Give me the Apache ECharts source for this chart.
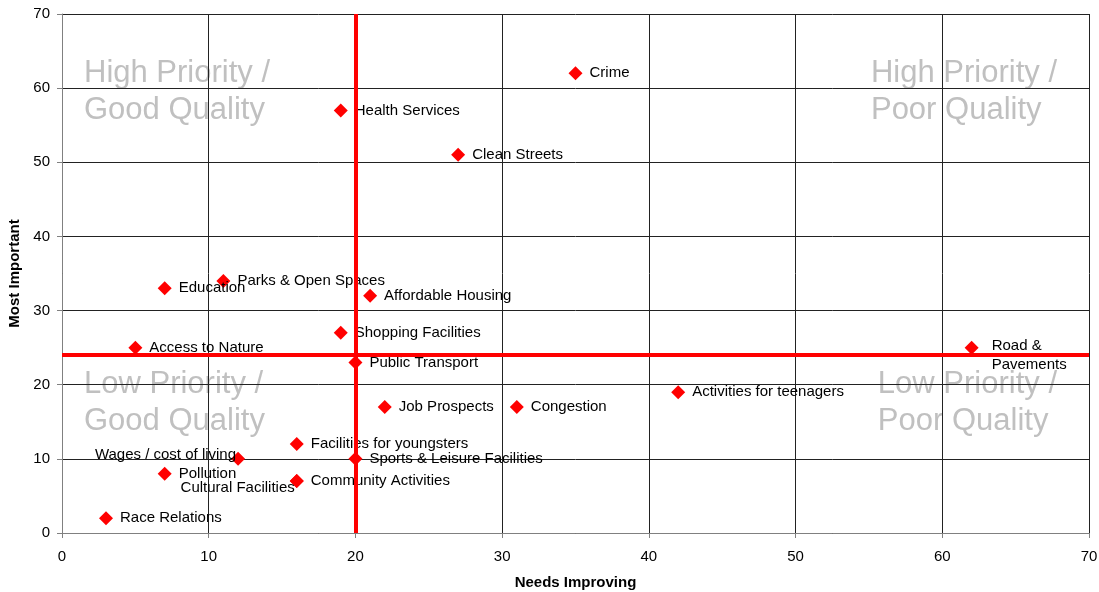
<!DOCTYPE html>
<html>
<head>
<meta charset="utf-8">
<script src="https://cdn.jsdelivr.net/npm/echarts@6/dist/echarts.min.js"></script>
<style>
  html, body { margin: 0; padding: 0; background: #fff; }
  #main { width: 1099px; height: 592px; }
</style>
</head>
<body>
<div id="main"></div>
<script>
// 各项指标
const names = [
  'Crime', 'Health Services', 'Clean Streets', 'Parks & Open Spaces', 'Education',
  'Affordable Housing', 'Shopping Facilities', 'Access to Nature', 'Road &\nPavements',
  'Public Transport', 'Activities for teenagers', 'Job Prospects', 'Congestion',
  'Facilities for youngsters', 'Wages / cost of living', 'Sports & Leisure Facilities',
  'Pollution', 'Cultural Facilities', 'Community Activities', 'Race Relations'
]
const needsImproving = [35, 19, 27, 11, 7, 21, 19, 5, 62, 20, 42, 22, 31, 16, 12, 20, 7, 16, 16, 3]
const mostImportant = [62, 57, 51, 34, 33, 32, 27, 25, 25, 23, 19, 17, 17, 12, 10, 10, 8, 7, 7, 2]

// 分界线
const xDivider = 20
const yDivider = 24

// 个别标签的位置调整
const labelTweaks = {
  'Road &\nPavements': { position: 'right', distance: 13, offset: [0, 8] },
  'Wages / cost of living': { position: 'left', distance: 0, offset: [5, -4] },
  'Cultural Facilities': { position: 'left', distance: 0, offset: [5, 7] }
}

const chart = echarts.init(document.getElementById('main'))

const seriesData = names.map((n, i) => {
  const item = { name: n, value: [needsImproving[i], mostImportant[i]] }
  if (labelTweaks[n]) item.label = labelTweaks[n]
  return item
})

const quadFont = { fontFamily: 'Liberation Sans, Arial, sans-serif', fontSize: 31, fill: '#c0c0c0', lineHeight: 37 }
const axisFont = 'Liberation Sans, Arial, sans-serif'

chart.setOption({
  animation: false,
  grid: { left: 62, right: 10, top: 14, bottom: 59, outerBoundsMode: 'none' },
  xAxis: {
    type: 'value', min: 0, max: 70, interval: 10,
    name: 'Needs Improving', nameLocation: 'middle', nameGap: 42,
    nameTextStyle: { fontWeight: 'bold', fontSize: 15, color: '#000', fontFamily: axisFont },
    axisLine: { lineStyle: { color: '#808080', width: 1 } },
    axisTick: { show: true, length: 5, lineStyle: { color: '#808080' } },
    axisLabel: { color: '#000', fontSize: 15, margin: 16, fontFamily: axisFont },
    splitLine: { show: true, lineStyle: { color: '#222', width: 1 } }
  },
  yAxis: {
    type: 'value', min: 0, max: 70, interval: 10,
    name: 'Most Important', nameLocation: 'middle', nameGap: 36,
    nameTextStyle: { fontWeight: 'bold', fontSize: 15, color: '#000', fontFamily: axisFont },
    axisLine: { show: true, lineStyle: { color: '#808080', width: 1 } },
    axisTick: { show: true, length: 5, lineStyle: { color: '#808080' } },
    axisLabel: { color: '#000', fontSize: 15, margin: 12, fontFamily: axisFont },
    splitLine: { show: true, lineStyle: { color: '#222', width: 1 } }
  },
  graphic: [
    { type: 'text', left: 84, top: 55, z: 0, style: Object.assign({ text: 'High Priority /\nGood Quality', align: 'left' }, quadFont) },
    { type: 'text', right: 42, top: 55, z: 0, style: Object.assign({ text: 'High Priority /\nPoor Quality', align: 'right' }, quadFont) },
    { type: 'text', left: 84, top: 366, z: 0, style: Object.assign({ text: 'Low Priority /\nGood Quality', align: 'left' }, quadFont) },
    { type: 'text', right: 42, top: 366, z: 0, style: Object.assign({ text: 'Low Priority /\nPoor Quality', align: 'right' }, quadFont) }
  ],
  series: [{
    type: 'scatter',
    symbol: 'diamond',
    symbolSize: [14, 14],
    itemStyle: { color: '#ff0000', opacity: 1 },
    label: {
      show: true, position: 'right', distance: 7,
      formatter: p => p.name,
      color: '#000', fontSize: 15, lineHeight: 19,
      fontFamily: 'Liberation Sans, Arial, sans-serif'
    },
    data: seriesData,
    markLine: {
      silent: true, symbol: 'none', animation: false,
      label: { show: false },
      lineStyle: { color: '#ff0000', width: 4, type: 'solid' },
      data: [{ xAxis: xDivider }, { yAxis: yDivider }]
    }
  }]
})
</script>
</body>
</html>
